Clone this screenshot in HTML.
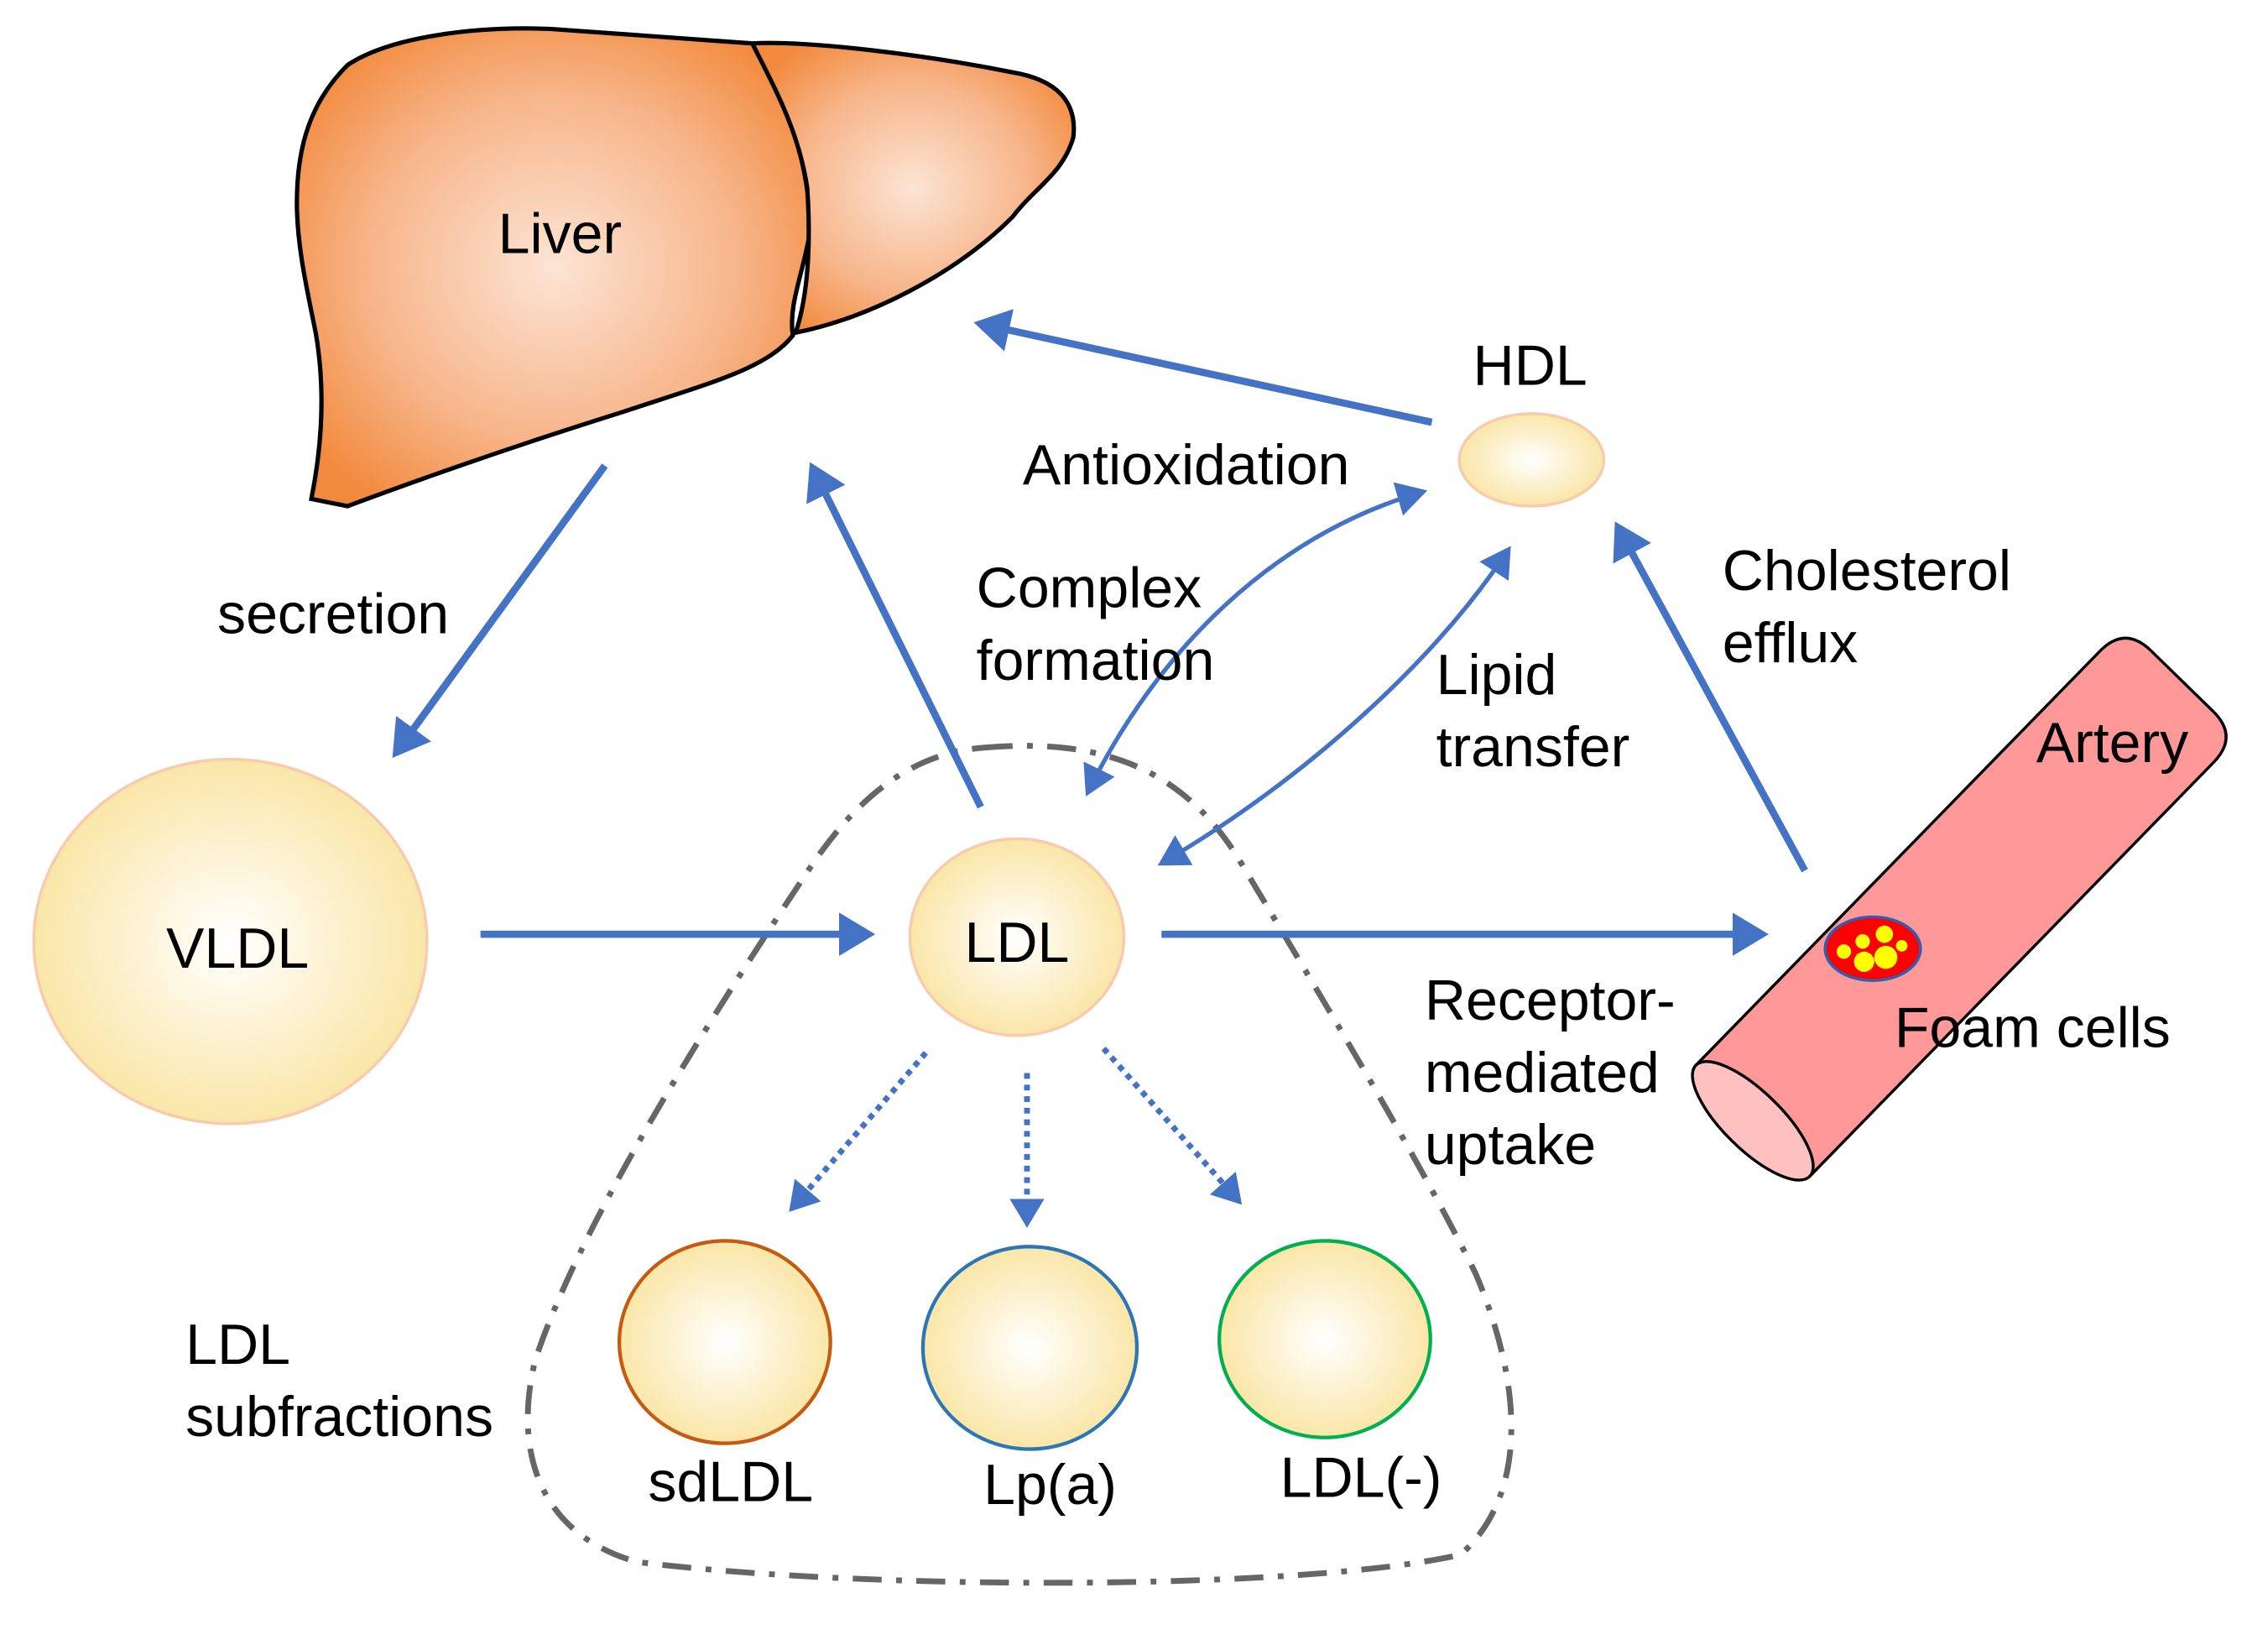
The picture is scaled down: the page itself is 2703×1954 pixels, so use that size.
<!DOCTYPE html>
<html><head><meta charset="utf-8"><style>html,body{margin:0;padding:0;background:#fff}svg{display:block}text{font-family:"Liberation Sans",sans-serif;font-size:39.5px;fill:#000}</style></head>
<body>
<svg width="2703" height="1954" viewBox="0 0 1568 1134" xmlns="http://www.w3.org/2000/svg">
<defs>
<radialGradient id="ball"><stop offset="0" stop-color="#ffffff"/><stop offset="1" stop-color="#fae6a8"/></radialGradient>
<radialGradient id="liv" cx="0.5" cy="0.5" r="0.6"><stop offset="0" stop-color="#fce4d4"/><stop offset="0.6" stop-color="#f7b58a"/><stop offset="1" stop-color="#f28a3e"/></radialGradient>
<marker id="ah" markerWidth="6" markerHeight="6" refX="4" refY="3" orient="auto" markerUnits="strokeWidth"><path d="M0,0 L5,3 L0,6 Z" fill="#4472c4"/></marker>
<marker id="ah2" markerWidth="8" markerHeight="8" refX="6" refY="4" orient="auto-start-reverse" markerUnits="strokeWidth"><path d="M0,0 L7,4 L0,8 Z" fill="#4472c4"/></marker>
</defs>
<path d="M215,345 C222,310 225,270 218,230 C212,200 205,170 205,140 C205,100 215,70 240,45 C270,25 330,18 380,20 L520,30 C540,60 560,110 560,160 C555,190 545,210 548,232 C530,255 490,265 430,285 C350,310 280,335 240,350 Z" fill="url(#liv)" stroke="#000" stroke-width="3"/>
<path d="M520,30 C560,28 640,38 700,50 C730,55 745,70 742,95 C735,120 715,130 700,150 C660,190 600,220 550,230 C560,200 560,160 558,130 C552,90 535,60 520,30 Z" fill="url(#liv)" stroke="#000" stroke-width="3"/>
<text x="387" y="175" text-anchor="middle">Liver</text>
<path d="M680,517 C760,510 820,530 860,600 C920,700 980,800 1020,880 C1050,950 1060,1030 1010,1075 C900,1100 600,1100 440,1080 C370,1060 355,1000 370,940 C400,850 480,720 560,600 C600,540 640,520 680,517 Z" fill="none" stroke="#666" stroke-width="4" stroke-dasharray="20 10 4 10"/>
<g transform="translate(1212,775) rotate(-45.7)">
<path d="M0,-55 L400,-55 Q425,-55 425,-30 L425,30 Q425,55 400,55 L0,55 Z" fill="#ff9999" stroke="#000" stroke-width="2"/>
<ellipse cx="0" cy="0" rx="20" ry="55" fill="#ffc0c0" stroke="#000" stroke-width="2"/>
</g>
<ellipse cx="1295" cy="656" rx="33" ry="22" fill="#ff0000" stroke="#2e5fb0" stroke-width="2"/>
<circle cx="1289" cy="665" r="7" fill="#ffff00"/><circle cx="1304" cy="662" r="8" fill="#ffff00"/><circle cx="1303" cy="646" r="6" fill="#ffff00"/><circle cx="1288" cy="651" r="5" fill="#ffff00"/><circle cx="1275" cy="658" r="5" fill="#ffff00"/><circle cx="1315" cy="654" r="4" fill="#ffff00"/>
<ellipse cx="159" cy="651" rx="136" ry="126" fill="url(#ball)" stroke="#f8cbad" stroke-width="2"/>
<ellipse cx="703" cy="648" rx="74" ry="68" fill="url(#ball)" stroke="#f8cbad" stroke-width="2"/>
<ellipse cx="1059" cy="318" rx="50" ry="32" fill="url(#ball)" stroke="#f8cbad" stroke-width="2"/>
<ellipse cx="501" cy="928" rx="73" ry="70" fill="url(#ball)" stroke="#c55a11" stroke-width="2.5"/>
<ellipse cx="712" cy="932" rx="74" ry="70" fill="url(#ball)" stroke="#2e75b6" stroke-width="2.5"/>
<ellipse cx="916" cy="926" rx="73" ry="68" fill="url(#ball)" stroke="#00b050" stroke-width="2.5"/>
<g stroke="#4472c4" stroke-width="5" fill="none">
<line x1="418" y1="322" x2="274" y2="520" marker-end="url(#ah)"/>
<line x1="332" y1="646" x2="600" y2="646" marker-end="url(#ah)"/>
<line x1="678" y1="558" x2="562" y2="324" marker-end="url(#ah)"/>
<line x1="990" y1="292" x2="678" y2="224" marker-end="url(#ah)"/>
<line x1="803" y1="646" x2="1218" y2="646" marker-end="url(#ah)"/>
<line x1="1248" y1="602" x2="1119" y2="365" marker-end="url(#ah)"/>
</g>
<g stroke="#4472c4" stroke-width="3" fill="none">
<path d="M752,548 C800,450 880,370 984,340" marker-start="url(#ah2)" marker-end="url(#ah2)"/>
<path d="M803,597 C900,540 990,460 1043,380" marker-start="url(#ah2)" marker-end="url(#ah2)"/>
</g>
<g stroke="#4472c4" stroke-width="4" fill="none" stroke-dasharray="4 4">
<line x1="640" y1="728" x2="548" y2="835" marker-end="url(#ah)"/>
<line x1="710" y1="742" x2="710" y2="845" marker-end="url(#ah)"/>
<line x1="763" y1="725" x2="856" y2="830" marker-end="url(#ah)"/>
</g>
<text x="164" y="669" text-anchor="middle">VLDL</text>
<text x="703" y="665" text-anchor="middle">LDL</text>
<text x="1058" y="266" text-anchor="middle">HDL</text>
<text x="150" y="438">secretion</text>
<text x="707" y="335">Antioxidation</text>
<text x="675" y="420">Complex</text>
<text x="675" y="470">formation</text>
<text x="993" y="480">Lipid</text>
<text x="993" y="530">transfer</text>
<text x="1191" y="408">Cholesterol</text>
<text x="1191" y="458">efflux</text>
<text x="1408" y="527">Artery</text>
<text x="1310" y="724">Foam cells</text>
<text x="985" y="705">Receptor-</text>
<text x="985" y="755">mediated</text>
<text x="985" y="805">uptake</text>
<text x="128" y="943">LDL</text>
<text x="128" y="993">subfractions</text>
<text x="505" y="1038" text-anchor="middle">sdLDL</text>
<text x="726" y="1040" text-anchor="middle">Lp(a)</text>
<text x="941" y="1035" text-anchor="middle">LDL(-)</text>
</svg>
</body></html>
